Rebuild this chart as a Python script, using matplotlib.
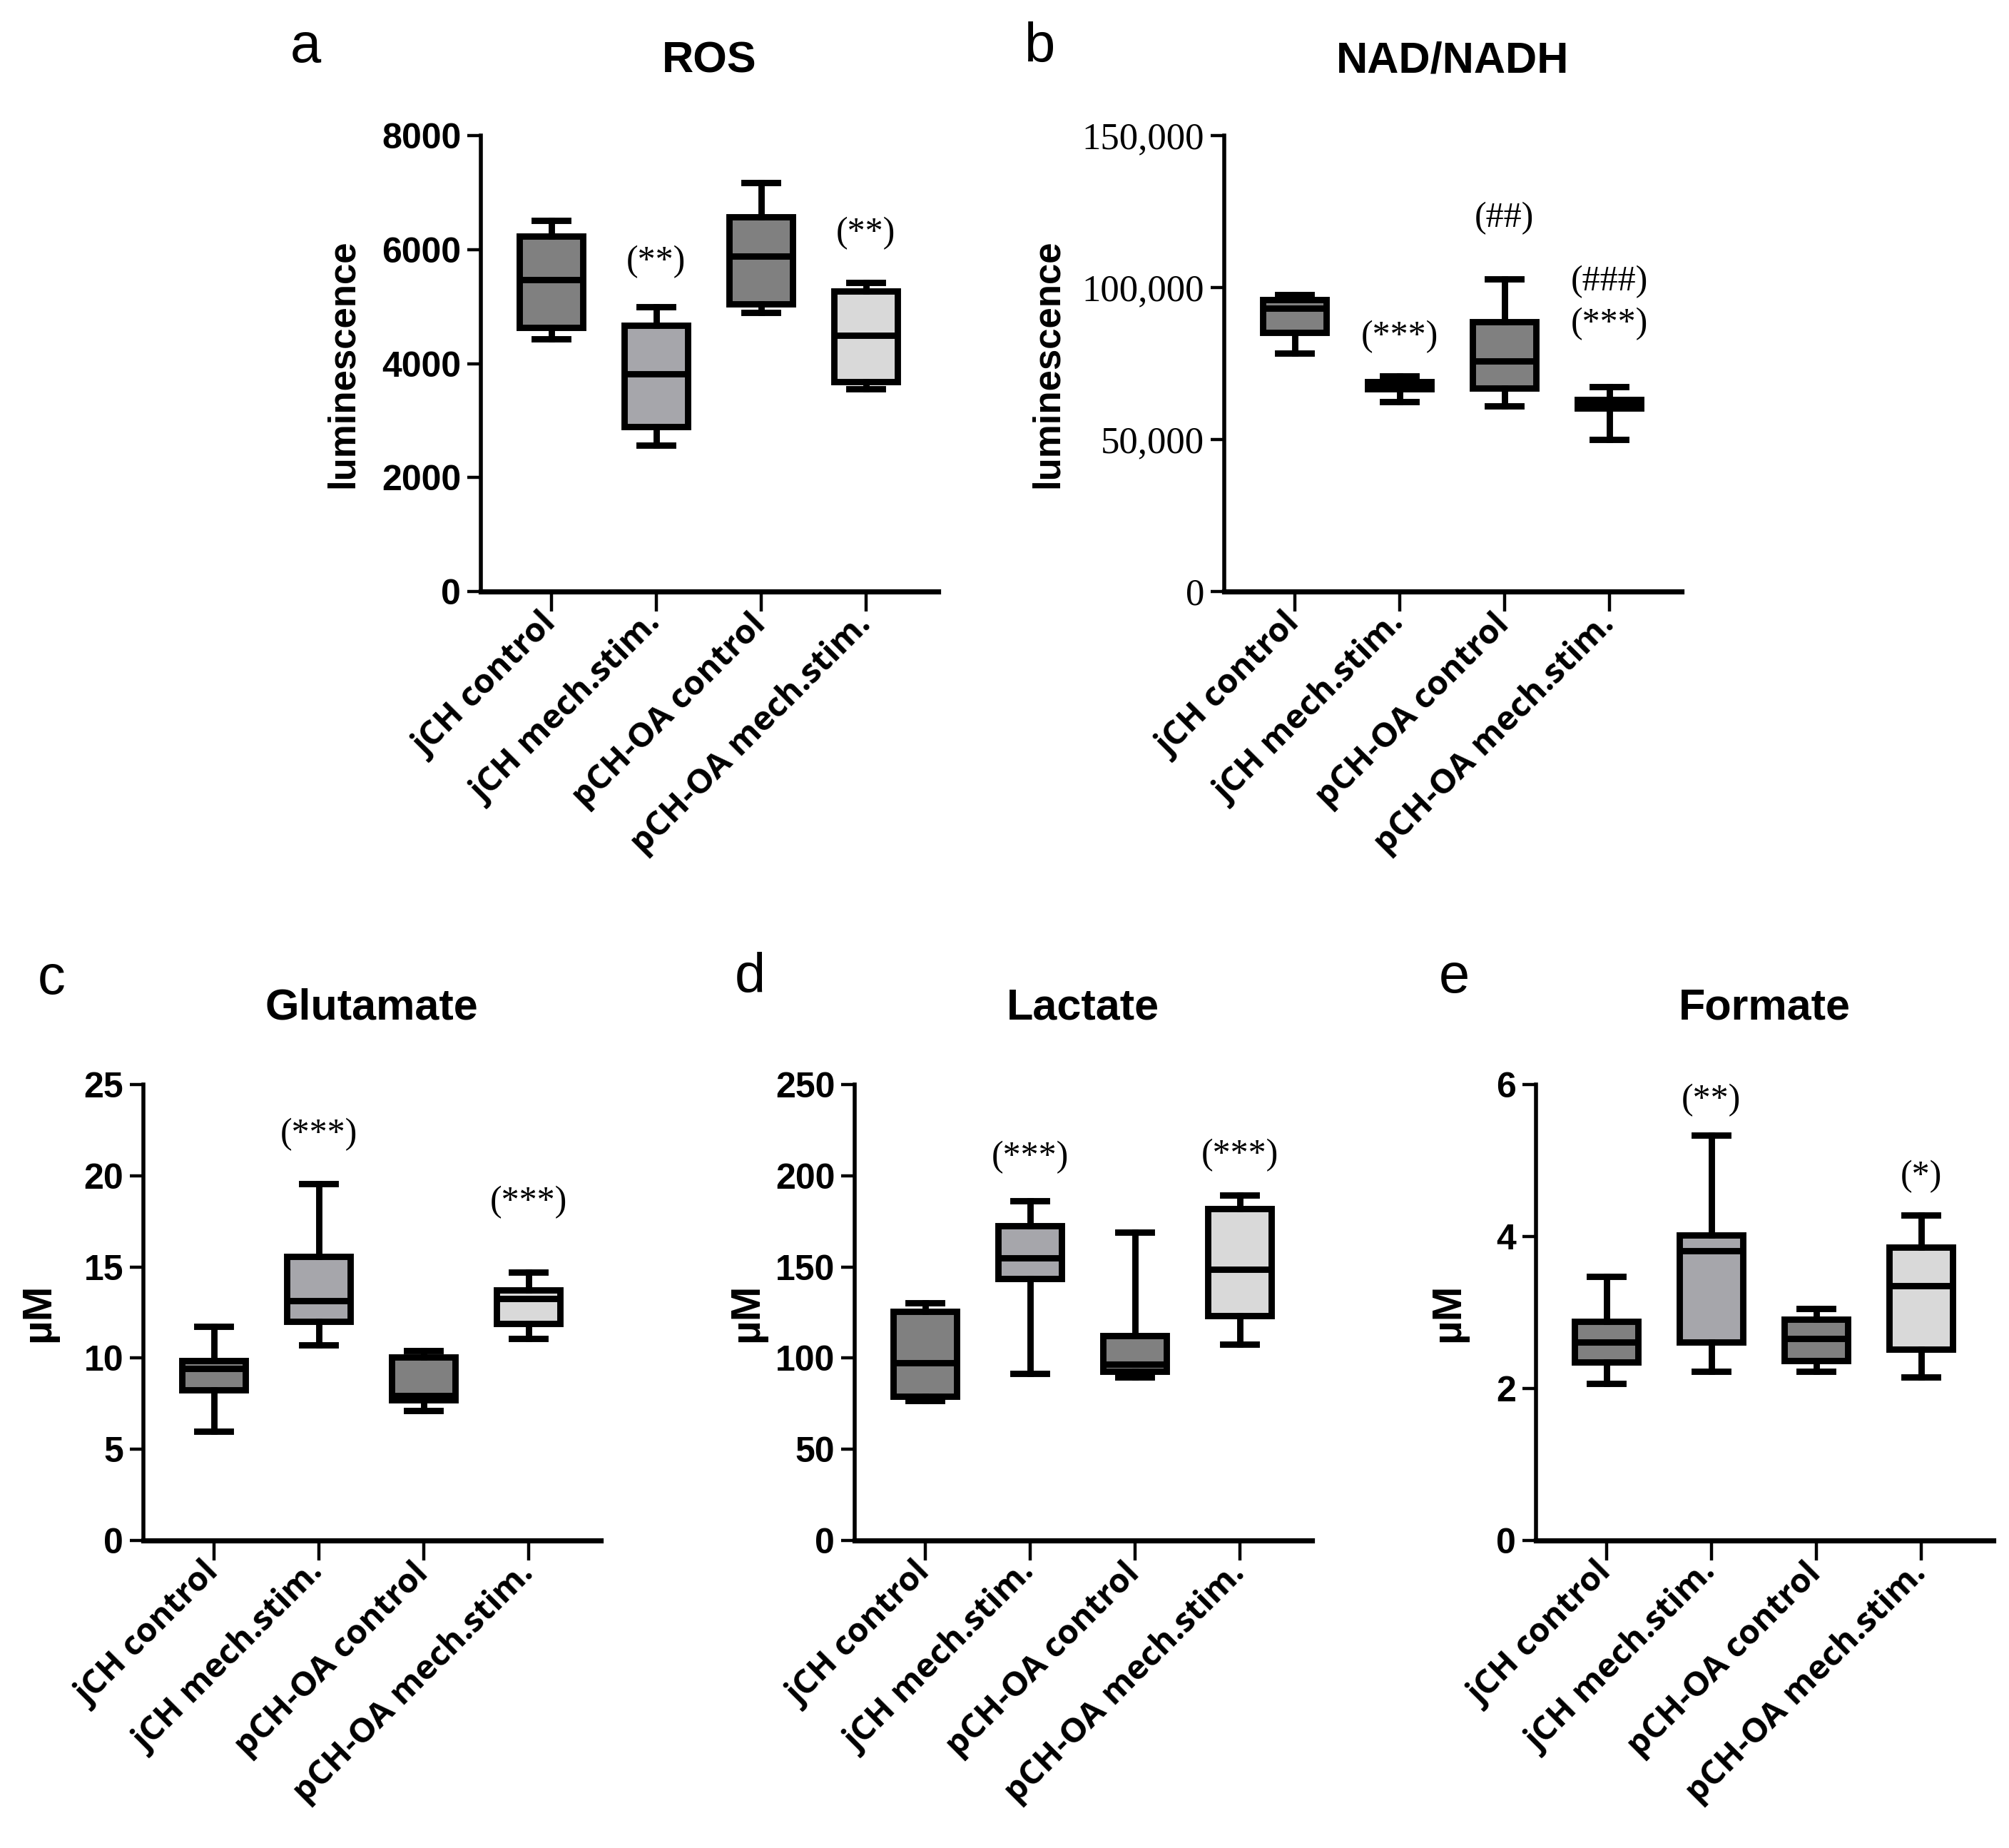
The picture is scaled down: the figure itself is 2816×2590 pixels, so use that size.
import matplotlib
matplotlib.use("Agg")
import matplotlib.pyplot as plt
from matplotlib import font_manager
from matplotlib.ticker import FuncFormatter

# groups and box colours (same for every panel)
groups = ["jCH control", "jCH mech.stim.", "pCH-OA control", "pCH-OA mech.stim."]
box_colors = ["#808080", "#a6a6ab", "#808080", "#d9d9d9"]

# a - ROS
ros_lo = [4430, 2570, 4890, 3550]
ros_q1 = [4630, 2890, 5050, 3680]
ros_med = [5470, 3820, 5890, 4500]
ros_q3 = [6230, 4670, 6570, 5270]
ros_hi = [6510, 5000, 7170, 5420]
ros_ann_x = [2, 4]
ros_ann_y = [5790, 6280]
ros_ann = ["(**)", "(**)"]

# b - NAD/NADH
nad_lo = [78300, 62500, 61100, 50100]
nad_q1 = [85300, 66700, 67000, 60400]
nad_med = [93300, 67800, 75900, 61800]
nad_q3 = [95900, 69100, 88800, 63200]
nad_hi = [97700, 70900, 102900, 67400]
nad_ann_x = [2, 3, 4, 4]
nad_ann_y = [83800, 122700, 101900, 88100]
nad_ann = ["(***)", "(##)", "(###)", "(***)"]

# c - Glutamate
glu_lo = [5.97, 10.71, 7.13, 11.07]
glu_q1 = [8.26, 12.0, 7.72, 11.9]
glu_med = [9.41, 13.14, 7.96, 13.26]
glu_q3 = [9.85, 15.58, 10.05, 13.75]
glu_hi = [11.74, 19.57, 10.41, 14.73]
glu_ann_x = [2, 4]
glu_ann_y = [22.25, 18.53]
glu_ann = ["(***)", "(***)"]

# d - Lactate
lac_lo = [76.6, 91.5, 89.5, 107.4]
lac_q1 = [79.0, 143.6, 92.9, 123.1]
lac_med = [97.5, 155.1, 96.5, 148.8]
lac_q3 = [125.7, 172.6, 112.4, 182.0]
lac_hi = [130.3, 186.4, 168.9, 189.3]
lac_ann_x = [2, 4]
lac_ann_y = [210.2, 211.4]
lac_ann = ["(***)", "(***)"]

# e - Formate
for_lo = [2.07, 2.23, 2.23, 2.15]
for_q1 = [2.35, 2.61, 2.37, 2.52]
for_med = [2.61, 3.81, 2.66, 3.35]
for_q3 = [2.88, 4.02, 2.91, 3.86]
for_hi = [3.47, 5.33, 3.05, 4.28]
for_ann_x = [2, 4]
for_ann_y = [5.79, 4.79]
for_ann = ["(**)", "(*)"]

names = {f.name for f in font_manager.fontManager.ttflist}
narrow = "Liberation Sans Narrow" if "Liberation Sans Narrow" in names else "Liberation Sans"
xfont = "Open Sans" if "Open Sans" in names else "DejaVu Sans"

W, H = 2816, 2590
fig = plt.figure(figsize=(W / 200, H / 200), dpi=200)

LW = 3.2


def panel(rect, lo, q1, med, q3, hi, ymax, yticks, ylabel, label_x,
          ann_x, ann_y, ann, serif_ticks=False, ylabel_size=19):
    ax = fig.add_axes(rect)
    stats = []
    for i in range(len(groups)):
        stats.append({"whislo": lo[i], "q1": q1[i], "med": med[i],
                      "q3": q3[i], "whishi": hi[i], "fliers": []})
    bp = ax.bxp(stats, positions=[1, 2, 3, 4], widths=0.6, capwidths=0.32,
                patch_artist=True, showfliers=False,
                boxprops=dict(linewidth=LW, edgecolor="black"),
                medianprops=dict(linewidth=LW, color="black"),
                whiskerprops=dict(linewidth=LW, color="black"),
                capprops=dict(linewidth=LW, color="black"))
    for patch, c in zip(bp["boxes"], box_colors):
        patch.set_facecolor(c)
        patch.set_joinstyle("miter")

    ax.set_xlim(0.33, 4.69)
    ax.set_ylim(0, ymax)
    ax.set_yticks(yticks)
    ax.spines["top"].set_visible(False)
    ax.spines["right"].set_visible(False)
    ax.spines["left"].set_linewidth(2.0)
    ax.spines["bottom"].set_linewidth(2.6)
    ax.tick_params(axis="x", length=10, width=1.6, pad=4)
    ax.tick_params(axis="y", length=7, width=1.6, pad=3)

    ax.set_xticks([1, 2, 3, 4])
    ax.set_xticklabels(groups, rotation=45, ha="right", va="center",
                       rotation_mode="anchor", fontsize=17,
                       fontweight="bold", family=xfont)
    if serif_ticks:
        ax.yaxis.set_major_formatter(FuncFormatter(lambda v, p: f"{int(v):,}"))
        for t in ax.get_yticklabels():
            t.set_family("Liberation Serif")
            t.set_fontsize(19)
    else:
        for t in ax.get_yticklabels():
            t.set_family(narrow)
            t.set_fontweight("bold")
            t.set_fontsize(18)

    ax.set_ylabel(ylabel, fontsize=ylabel_size, fontweight="bold",
                  family="Liberation Sans", va="center")
    ax.yaxis.set_label_coords(label_x, 0.5)

    for x, y, s in zip(ann_x, ann_y, ann):
        ax.text(x, y, s, ha="center", va="center", fontsize=18,
                family="Liberation Serif")
    return ax


top_b, bot_b = 1 - 829 / H, 1 - 2159 / H
ah, aw = 639 / H, 641 / W

axes_info = [
    (674, top_b, "ROS", "a"),
    (1716, top_b, "NAD/NADH", "b"),
    (201, bot_b, "Glutamate", "c"),
    (1198, bot_b, "Lactate", "d"),
    (2153, bot_b, "Formate", "e"),
]

panel([674 / W, top_b, aw, ah], ros_lo, ros_q1, ros_med, ros_q3, ros_hi,
      8000, [0, 2000, 4000, 6000, 8000], "luminescence", -0.301,
      ros_ann_x, ros_ann_y, ros_ann)
panel([1716 / W, top_b, aw, ah], nad_lo, nad_q1, nad_med, nad_q3, nad_hi,
      150000, [0, 50000, 100000, 150000], "luminescence", -0.385,
      nad_ann_x, nad_ann_y, nad_ann, serif_ticks=True)
panel([201 / W, bot_b, aw, ah], glu_lo, glu_q1, glu_med, glu_q3, glu_hi,
      25, [0, 5, 10, 15, 20, 25], "\u00b5M", -0.229,
      glu_ann_x, glu_ann_y, glu_ann, ylabel_size=21)
panel([1198 / W, bot_b, aw, ah], lac_lo, lac_q1, lac_med, lac_q3, lac_hi,
      250, [0, 50, 100, 150, 200, 250], "\u00b5M", -0.236,
      lac_ann_x, lac_ann_y, lac_ann, ylabel_size=21)
panel([2153 / W, bot_b, aw, ah], for_lo, for_q1, for_med, for_q3, for_hi,
      6, [0, 2, 4, 6], "\u00b5M", -0.192,
      for_ann_x, for_ann_y, for_ann, ylabel_size=21)

# titles and panel letters
letter_pos = {"a": (428, 66), "b": (1458, 66), "c": (72, 1372),
              "d": (1051, 1370), "e": (2038, 1371)}
for left, bottom, title, letter in axes_info:
    ty = 86 if bottom == top_b else 1413
    fig.text((left + 320) / W, 1 - ty / H, title, ha="center", va="center",
             fontsize=22, fontweight="bold", family="Liberation Sans")
    lx, ly = letter_pos[letter]
    fig.text(lx / W, 1 - ly / H, letter, ha="center", va="center",
             fontsize=28, family="Liberation Sans")

fig.savefig("out.png", dpi=200, facecolor="white")
